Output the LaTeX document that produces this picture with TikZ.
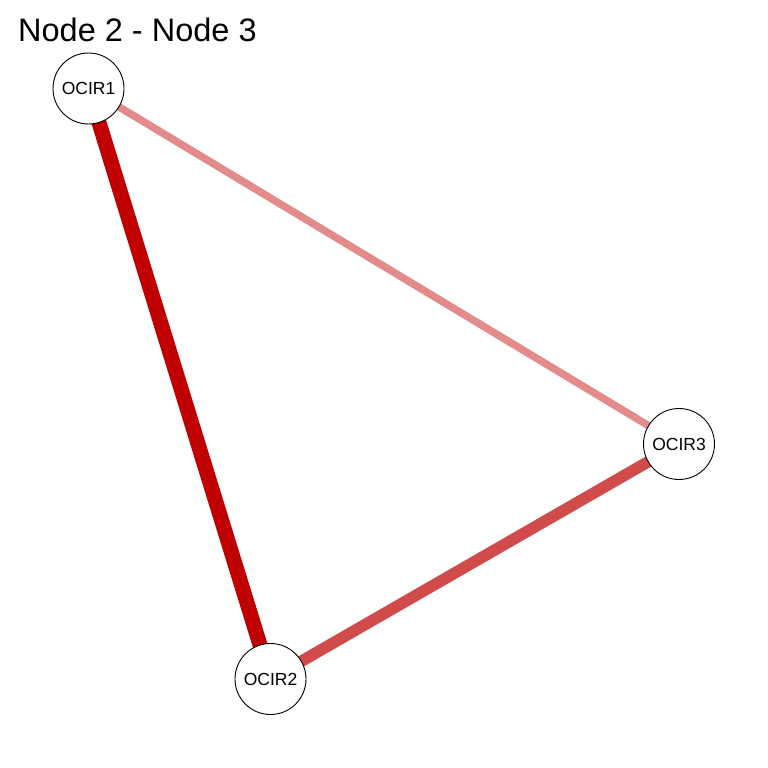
\documentclass[tikz,border=0pt]{standalone}
\usepackage{fontspec}
\setmainfont{Liberation Sans}
\usetikzlibrary{backgrounds}
\definecolor{edgeA}{HTML}{C00000}
\definecolor{edgeB}{HTML}{D24B4B}
\definecolor{edgeC}{HTML}{E38B8B}
\tikzset{
  netnode/.style={circle, draw=black, line width=0.9pt, fill=white, minimum size=71pt, inner sep=0pt, font=\fontsize{17.5}{19}\selectfont},
  titletext/.style={anchor=base west, inner sep=0pt, font=\fontsize{32.5}{36}\selectfont}
}
\begin{document}
\begin{tikzpicture}[x=1pt,y=-1pt]
\useasboundingbox (0,0) rectangle (768,768);
\node[titletext] (title) at (18,42) {Node 2 - Node 3};
\node[netnode] (n1) at (88.5,88.5) {OCIR1};
\node[netnode] (n2) at (270.5,679) {OCIR2};
\node[netnode] (n3) at (679,444) {OCIR3};
\begin{scope}[on background layer]
\draw[edgeA, line width=15pt] (n1.center) -- (n2.center);
\draw[edgeB, line width=11.5pt] (n2.center) -- (n3.center);
\draw[edgeC, line width=7.5pt] (n1.center) -- (n3.center);
\end{scope}
\end{tikzpicture}
\end{document}
